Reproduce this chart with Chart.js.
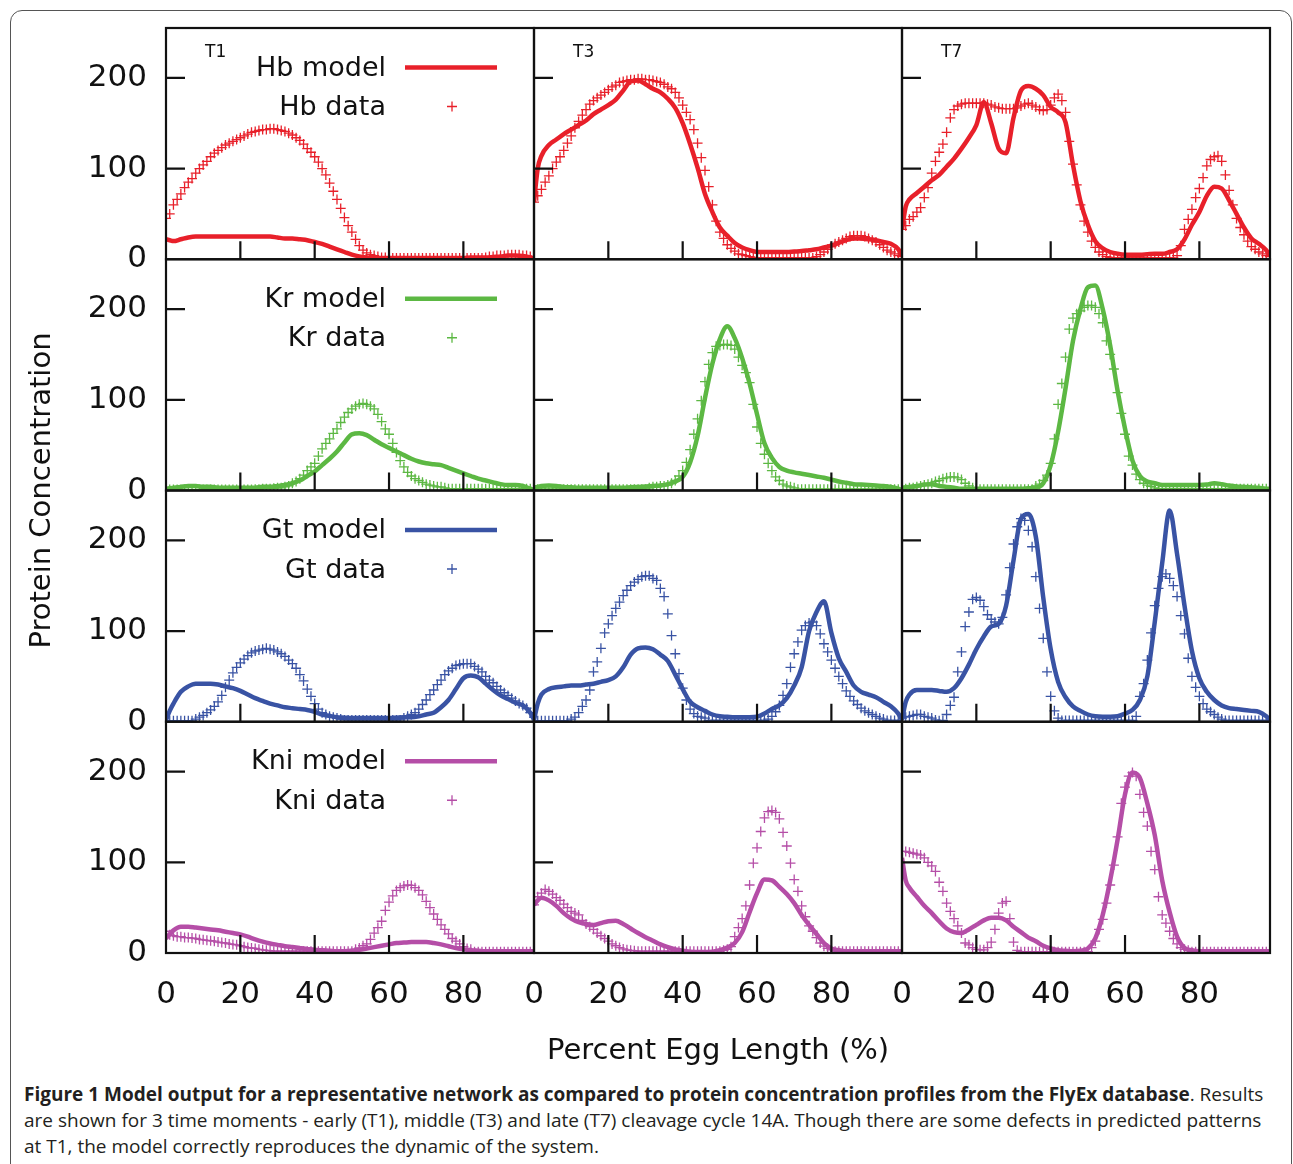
<!DOCTYPE html>
<html><head><meta charset="utf-8">
<script src="https://cdn.jsdelivr.net/npm/chart.js@4.4.0/dist/chart.umd.min.js"></script>
<style>
html,body{margin:0;padding:0;background:#fff;}
#wrap{position:relative;width:1293px;height:1164px;overflow:hidden;background:#fff;}
#frame{position:absolute;left:10px;top:10px;width:1282px;height:1250px;border:1.5px solid #555;border-radius:12px;box-sizing:border-box;}
#c{position:absolute;left:0;top:0;}
#cap{position:absolute;left:24px;top:1081px;font-family:"Open Sans",sans-serif;font-size:19px;line-height:26px;color:#231f20;}
#cap div{white-space:nowrap;}
</style></head>
<body><div id="wrap"><div id="frame"></div>
<canvas id="c" width="1293" height="1080" style="width:1293px;height:1080px"></canvas>
<div id="cap">
<div><b>Figure 1 Model output for a representative network as compared to protein concentration profiles from the FlyEx database</b>. Results</div>
<div>are shown for 3 time moments - early (T1), middle (T3) and late (T7) cleavage cycle 14A. Though there are some defects in predicted patterns</div>
<div>at T1, the model correctly reproduces the dynamic of the system.</div>
</div></div>
<script>
const xData = [0,1,2,3,4,5,6,7,8,9,10,11,12,13,14,15,16,17,18,19,20,21,22,23,24,25,26,27,28,29,30,31,32,33,34,35,36,37,38,39,40,41,42,43,44,45,46,47,48,49,50,51,52,53,54,55,56,57,58,59,60,61,62,63,64,65,66,67,68,69,70,71,72,73,74,75,76,77,78,79,80,81,82,83,84,85,86,87,88,89,90,91,92,93,94,95,96,97,98,99];
const xModel = [0,1,2,4,6,8,10,12,14,16,18,20,22,24,26,28,30,32,34,36,38,40,42,44,46,48,50,52,54,56,58,60,62,64,66,68,70,72,74,76,78,80,82,84,86,88,90,92,94,96,98,99];
const xTicks = [0,20,40,60,80];
const yTicks = [0,100,200];
const times = ['T1','T3','T7'];
const genes = ['Hb','Kr','Gt','Kni'];
const geneColors = ['#e8202a','#5cb843','#3953a4','#b54ea7'];
const xTitle = 'Percent Egg Length (%)';
const yTitle = 'Protein Concentration';

// ---- Hb ----
const hbT1Model = [22,21,20, 22,24,25,25,25,25,25,25,25,25, 25,25,25,24,23,23,22,21,19,17, 14,11,8,5,3,2,1.5,1.5,1.5,1.5, 1.5,1.5,1.5,1.5,1.5,1.5,1.5,1.5,1.5,2, 2,2,2.5,3,4,4,3.5,2, 1];
const hbT1Data = [45,50,60,66,72,79,85,89,95,100, 104,108,113,117,120,123,126,128,130,132, 134,136,138,140,141,142,143,143,144,144, 143,142,141,139,137,134,131,127,122,118, 113,107,100,93,84,75,66,56,46,37, 30,22,15,10,7,5,4,3,2,2, 1.5,1.5,1.5,1.5,1.5,1.5,1.5,1.5,1.5,1.5, 1.5,1.5,1.5,1.5,1.5,1.5,1.5,1.5,1.5,1.5, 1.5,1.5,1.5,1.5,1.5,1.5,2,3,3,4, 4,4,5,5,5,5,4,4,3,3];
const hbT3Model = [63,100,114, 126,132,138,143,148,153,160,165,170,176, 186,196,197,193,188,184,177,167,150,127, 101,72,52,35,26,18,13,10,8,8, 8,8,8,8.5,9,10,11,13,15,18, 21,23,23,22,21,19,17,11, 4];
const hbT3Data = [63,70,77,85,92,100,107,113,120,128, 136,145,152,159,165,171,175,178,181,184, 187,190,192,195,196,197,198,198,199,199, 198,198,197,196,195,193,190,188,184,178, 170,162,154,143,128,112,98,80,60,42, 30,23,16,12,9,6,5,4,3,2, 1.5,1.5,1.5,1.5,1.5,1.5,1.5,1.5,1.5,1.5, 1.5,1.5,1.5,1.5,1.5,1.5,3,5,8,11, 14,17,19,21,23,25,26,26,26,25, 23,21,19,16,13,10,8,6,4,3];
const hbT7Model = [33,58,66, 73,80,87,93,102,111,122,134,148,173, 150,122,117,156,186,191,188,181,168,162, 151,104,64,38,20,12,8,6,5,5, 5,5.5,6,6,8,11,22,38,52,70, 80,78,65,50,35,23,17,10, 4];
const hbT7Data = [33,37,44,47,52,57,68,79,95,108, 118,127,140,156,165,169,171,172,172,172, 172,172,172,171,170,168,167,166,166,166, 166,167,169,171,172,170,168,165,164,165, 170,178,182,175,162,130,105,82,60,42, 30,20,13,8,5,3,2,1.5,1.5,1.5, 1.5,1.5,1.5,1.5,1.5,1.5,1.5,1.5,1.5,1.5, 1.5,1.5,1.5,1.5,4,15,33,44,55,68, 78,90,103,110,113,114,108,93,76,60, 45,35,27,20,14,11,8,6,4,3];

// ---- Kr ----
const krT1Model = [2,2.5,3, 4,5,5,4,4,3,3,3,3,3, 3,4,4,5,6,8,11,16,21,28, 35,43,53,62,63,61,56,51,47,43, 39,35,32,30,29,28,25,22,19,16, 13,11,9,7,6,6,5,2, 0.5];
const krT1Data = [1,1,1,1,1,1,1,1,1,1, 1,1,1,1,1,1,1,1,1,1, 1,1,1,1,1.5,1.5,2,2,2,2.5, 3,3,4,5,8,10,13,17,22,26, 30,38,46,52,57,63,68,75,81,86, 90,93,95,96,95,93,90,84,76,68, 62,52,42,33,26,20,16,13,11,9, 7,6,5,4,4,3,2,2,2,2, 2,2,2,2,2,2,2,2,2,2, 2,2,2,2,2,2,2,2,2,2];
const krT3Model = [3,4,5, 5.5,5,4,3.5,3,3,3,3,3,3, 3,3.5,4,4.5,5,5.5,7,10,15,31, 60,102,140,167,181,168,146,118,84,52, 36,26,22,20,18.5,17,15.5,14,12,10, 8.5,7,6.5,6,5.5,5,4,2, 0.5];
const krT3Data = [1.5,1.5,1.5,1.5,1.5,1.5,1.5,1.5,1.5,1.5, 1.5,1.5,1.5,1.5,1.5,1.5,1.5,1.5,1.5,1.5, 1.5,1.5,1.5,1.5,1.5,1.5,1.5,1.5,1.5,1.5, 1.5,3,4,4,5,5,6,8,11,16, 22,31,45,62,79,99,120,139,152,159, 160,161,161,160,156,147,138,130,119,95, 70,52,40,30,22,15,11,7,5,4, 3,1.5,1.5,1.5,1.5,1.5,1.5,1.5,1.5,1.5, 1.5,1.5,1.5,1.5,1.5,1.5,1.5,1.5,1.5,1.5, 1.5,1.5,1.5,1.5,1.5,1.5,1.5,1.5,1.5,1.5];
const krT7Model = [3,3.5,4, 5,6.5,7,5,4,3,2,2,2,2, 2,2,2,2,2,2.5,3,8,28,65, 113,165,200,224,226,200,160,110,68,33, 16,10,8,6,6,6,6,6,6,6.5, 8,7,5.5,4.5,4,3.5,3,2, 2];
const krT7Data = [2,2,3,3,4,5,6,7,8,10, 11,13,14,15,15,14,12,8,5,3, 2.5,1.5,1.5,1.5,1.5,1.5,1.5,1.5,1.5,1.5, 1.5,1.5,1.5,1.5,1.5,1.5,5,7,11,17, 30,57,95,118,147,178,190,195,198,202, 204,204,202,195,185,165,150,134,108,85, 62,38,28,18,12,8,6,4.5,3,2, 2,2,2,2,2,2,2,2,2,2, 2,2,2,2,2,2,2,2,2,2, 2,2,2,2,2,2,2,2,2,2];

// ---- Gt ----
const gtT1Model = [2,12,20, 33,39,42,42,42,41,39,37,34,30, 26,23,20,18,16,15,14,13,11,8, 6.5,5,4.5,4,4,4,4,4,4,4.5, 5,5,6,8,10,16,24,36,48,51, 49,42,35,29,25,21,18,10, 2];
const gtT1Data = [1,1,1,1,1,1,1,1,3,5, 7,10,13,17,22,29,38,46,54,60, 65,69,73,76,78,79,80,81,80,79, 77,75,72,68,64,59,52,45,36,28, 20,14,10,8,6,5,4,3,2,2, 2,2,2,2,2,2,2,2,2,2, 2,2,2,2,4,6,8,10,14,19, 24,30,35,41,46,52,56,59,62,63, 64,64,64,61,58,55,50,46,43,39, 35,32,29,26,23,20,18,15,10,5];
const gtT3Model = [2,20,30, 36,38,39,40,40,41,42,44,46,50, 60,74,81,82,80,74,67,52,36,22, 16,12,8,6,5.5,5,5,5,5.5,9, 14,18,26,40,60,100,121,133,98,70, 55,40,33,30,27,22,17,9, 2];
const gtT3Data = [1,1,1,1,1,1,1,1,1,1, 3,5,10,17,24,35,55,66,81,98, 108,117,125,132,139,145,150,154,157,160, 161,161,158,156,147,138,119,95,75,53, 37,24,14,9,6,5,4,1.5,1.5,1.5, 1.5,1.5,1.5,1.5,1.5,1.5,1.5,1.5,1.5,1.5, 1.5,1.5,1.5,3,6,11,18,29,42,60, 75,88,101,106,109,110,106,97,86,77, 68,59,50,42,34,28,23,19,15,12, 10,8,6,4,3,1.5,1.5,1.5,1.5,1.5];
const gtT7Model = [2,22,30, 35,35,35,34,33,37,48,63,80,94, 105,108,128,178,224,229,204,137,80,44, 27,17,12,8,6,5.5,5.5,6,9,13, 24,50,110,175,233,185,128,78,48,33, 24,18,15,14,13,12,11,6, 2];
const gtT7Data = [4,5,6,7,8,8,6,5,4,2, 1,1.5,8,18,27,55,77,105,121,135, 137,134,127,118,113,110,108,115,140,170, 196,215,224,222,211,193,160,125,92,55, 28,12,4,1.5,1.5,1.5,1.5,1.5,1.5,1.5, 1.5,1.5,1.5,1.5,1.5,1.5,1.5,1.5,1.5,1.5, 1.5,1.5,1.5,6,28,42,68,98,128,147, 160,163,158,150,138,117,97,70,50,38, 28,20,14,11,8,5,3,1.5,1.5,1.5, 1.5,1.5,1.5,1.5,1.5,1.5,1.5,1.5,1.5,1.5];

// ---- Kni ----
const kniT1Model = [16,21,25, 29,29,28,27,26,25,23.5,22,20.5,18, 15,12.5,10.5,9,7.5,6.5,5.5,4.5,3.5,3, 2.5,2,2,2.5,3.5,5,6.5,8,9.5,11, 11.5,12,12,12,11,9.5,7.5,5.5,4,3, 2.5,2,2,2,2,2,2,2, 2];
const kniT1Data = [24,20,19,18,18,17,17,16.5,16,15, 14.5,14,13.5,13,12,11.5,11,10,9.5,9, 8,7,6,5.5,5,4,3.5,3,2.5,2, 2,2,2,2,2,2,2,2,2,2, 2,2,2,2,2,2,2,2,2,2, 2,4,5.5,8,10,15,22,28,35,47, 56,63,69,72,74,75,74.5,72,69,64, 57,50,43,37,31,26,21,16,13,10, 7,5,4,1.5,1.5,1.5,1.5,1.5,1.5,1.5, 1.5,1.5,1.5,1.5,1.5,1.5,1.5,1.5,1.5,1.5];
const kniT3Model = [53,58,61, 58,52,44,38,34,32,31,33,35,35.5, 32,27,22,17.5,13.5,9.5,6.5,4,2.5,1.5, 1,1,1.5,3,6,11,23,45,66,81, 80,73,65,55,42,31,21,11,5,3, 2,2,2,2,2,2,2,2, 2];
const kniT3Data = [53,62,66,70,68,65,61,58,54,50, 46,44,42,36,32,29,26,22,19,16, 13,10,8,6,4.5,3.5,3,2.5,2,2, 2,2,2,2,2,2,2,2,2,2, 2,2,2,2,2,2,2,2,2,2, 2,3,4,7,18,28,38,52,75,99, 116,134,149,156,157,155,148,133,118,99, 81,68,52,40,30,24,17,11,7.5,5, 3.5,2,2,2,2,2,2,2,2,2, 2,2,2,2,2,2,2,2,2,2];
const kniT7Model = [105,80,72, 62,52,44,35,27,23,22,26,31,36, 39,39,36,29,23,17,13,8,5,3, 2.5,2,2.5,5,16,42,80,125,175,199, 193,165,130,80,45,18,5.5,3,2,2, 2,2,2,2,2,2,2,2, 2];
const kniT7Data = [112,112,111,110,109,108,105,100,96,90, 78,68,55,46,38,30,22,11,9,6, 4,3.5,3.5,6,12,26,44,55,57,38, 12,3,1.5,1.5,1.5,1.5,1.5,1.5,1.5,1.5, 1.5,1.5,1.5,1.5,1.5,1.5,1.5,1.5,1.5,1.5, 1.5,6,13,26,37,55,75,97,128,165, 183,195,199,195,175,155,140,112,92,62, 42,33,24,16,10,6,4,3,1.5,1.5, 1.5,1.5,1.5,1.5,1.5,1.5,1.5,1.5,1.5,1.5, 1.5,1.5,1.5,1.5,1.5,1.5,1.5,1.5,1.5,1.5];

const modelSeries = [
  [hbT1Model, hbT3Model, hbT7Model],
  [krT1Model, krT3Model, krT7Model],
  [gtT1Model, gtT3Model, gtT7Model],
  [kniT1Model, kniT3Model, kniT7Model]
];
const dataSeries = [
  [hbT1Data, hbT3Data, hbT7Data],
  [krT1Data, krT3Data, krT7Data],
  [gtT1Data, gtT3Data, gtT7Data],
  [kniT1Data, kniT3Data, kniT7Data]
];

const FONT = 'DejaVu Sans';
const datasets = [];
genes.forEach((g, r) => {
  times.forEach((t, c) => {
    const col = geneColors[r];
    datasets.push({
      label: g + ' model ' + t,
      data: xModel.map((x, i) => ({x: x, y: modelSeries[r][c][i]})),
      xAxisID: 'x' + c, yAxisID: 'y' + r,
      showLine: true, pointRadius: 0, pointHoverRadius: 0,
      borderColor: col, backgroundColor: col, borderWidth: 4.5,
      tension: 0.4, cubicInterpolationMode: 'monotone', fill: false
    });
    datasets.push({
      label: g + ' data ' + t,
      data: xData.map((x, i) => ({x: x, y: dataSeries[r][c][i]})),
      xAxisID: 'x' + c, yAxisID: 'y' + r,
      showLine: false, pointStyle: 'cross', pointRadius: 5, pointHoverRadius: 0,
      borderColor: col, backgroundColor: col, borderWidth: 1.3
    });
  });
});

function zeroPad(s) { s.paddingLeft = 0; s.paddingRight = 0; s.paddingTop = 0; s.paddingBottom = 0; }

const scales = {};
times.forEach((t, c) => {
  scales['x' + c] = {
    type: 'linear', axis: 'x', position: 'bottom', stack: 'cols', stackWeight: 1, weight: c,
    min: 0, max: 99,
    afterBuildTicks: s => { s.ticks = xTicks.map(v => ({value: v})); },
    afterFit: s => { s.height = 127; zeroPad(s); },
    grid: {display: false, drawTicks: false},
    border: {display: false},
    ticks: {font: {family: FONT, size: 31}, color: '#111', padding: 23, maxRotation: 0, autoSkip: false},
    title: {display: c === 1, text: xTitle, font: {family: FONT, size: 29}, color: '#111', padding: {top: 0, bottom: 11}}
  };
});
genes.forEach((g, r) => {
  scales['y' + r] = {
    type: 'linear', axis: 'y', position: 'left', stack: 'rows', stackWeight: 1, weight: 4 - r,
    min: 0, max: 255,
    afterBuildTicks: s => { s.ticks = yTicks.map(v => ({value: v})); },
    afterFit: s => { s.width = 166; zeroPad(s); },
    grid: {display: false, drawTicks: false},
    border: {display: false},
    ticks: {font: {family: FONT, size: 31}, color: '#111', padding: 19, autoSkip: false}
  };
});

const panelPlugin = {
  id: 'panels',
  afterDraw(chart) {
    const ctx = chart.ctx;
    ctx.save();
    genes.forEach((g, r) => {
      const ys = chart.scales['y' + r];
      times.forEach((t, c) => {
        const xs = chart.scales['x' + c];
        ctx.strokeStyle = '#111';
        ctx.lineWidth = 2.2;
        ctx.strokeRect(xs.left, ys.top, xs.right - xs.left, ys.bottom - ys.top);
        ctx.beginPath();
        yTicks.filter(v => v > 0).forEach(v => {
          const y = ys.getPixelForValue(v);
          ctx.moveTo(xs.left, y); ctx.lineTo(xs.left + 19, y);
        });
        xTicks.filter(v => v > 0).forEach(v => {
          const x = xs.getPixelForValue(v);
          ctx.moveTo(x, ys.bottom); ctx.lineTo(x, ys.bottom - 18);
        });
        ctx.stroke();
        if (r === 0) {
          ctx.fillStyle = '#111';
          ctx.font = '17px "' + FONT + '"';
          ctx.textAlign = 'left';
          ctx.textBaseline = 'alphabetic';
          ctx.fillText(t, xs.left + 39, ys.top + 29);
        }
      });
      // legend in first column
      const x0 = chart.scales['x0'];
      const col = geneColors[r];
      ctx.fillStyle = '#111';
      ctx.font = '27px "' + FONT + '"';
      ctx.textAlign = 'right';
      ctx.textBaseline = 'alphabetic';
      ctx.fillText(g + ' model', x0.left + 220, ys.top + 47.5);
      ctx.fillText(g + ' data', x0.left + 220, ys.top + 87);
      ctx.strokeStyle = col;
      ctx.lineWidth = 4.5;
      ctx.beginPath();
      ctx.moveTo(x0.left + 239, ys.top + 39.5);
      ctx.lineTo(x0.left + 331, ys.top + 39.5);
      ctx.stroke();
      ctx.lineWidth = 1.3;
      ctx.beginPath();
      const cx = x0.left + 286, cy = ys.top + 78.5;
      ctx.moveTo(cx - 5, cy); ctx.lineTo(cx + 5, cy);
      ctx.moveTo(cx, cy - 5); ctx.lineTo(cx, cy + 5);
      ctx.stroke();
    });
    // y title
    const area = chart.chartArea;
    ctx.translate(42, (area.top + area.bottom) / 2);
    ctx.rotate(-Math.PI / 2);
    ctx.fillStyle = '#111';
    ctx.font = '29px "' + FONT + '"';
    ctx.textAlign = 'center';
    ctx.textBaseline = 'middle';
    ctx.fillText(yTitle, 0, 0);
    ctx.restore();
  }
};

new Chart(document.getElementById('c'), {
  type: 'scatter',
  data: {datasets: datasets},
  options: {
    responsive: false, devicePixelRatio: 1, animation: false,
    layout: {padding: {left: 0, top: 28, right: 23, bottom: 0}},
    plugins: {legend: {display: false}, tooltip: {enabled: false}},
    scales: scales
  },
  plugins: [panelPlugin]
});
</script>
</body></html>
